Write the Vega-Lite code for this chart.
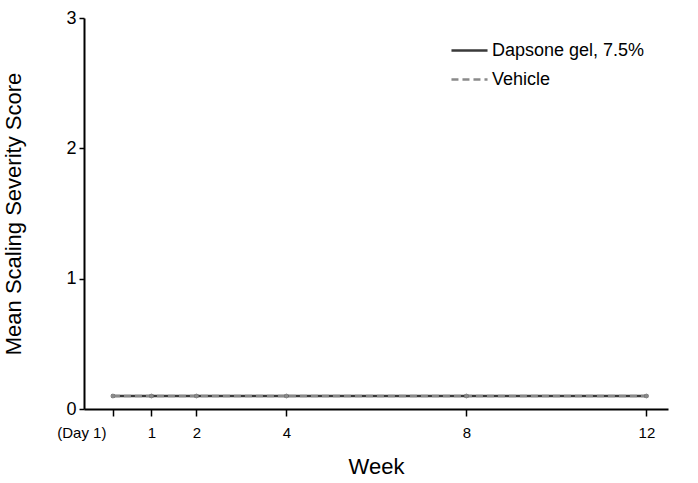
{
  "$schema": "https://vega.github.io/schema/vega-lite/v6.json",
  "autosize": "none",
  "width": 584,
  "height": 391,
  "padding": {"left": 84, "top": 18, "right": 30, "bottom": 74},
  "background": "white",
  "config": {
    "view": {"stroke": null},
    "font": "Liberation Sans",
    "axis": {"grid": false, "domainColor": "black", "domainWidth": 2, "tickColor": "black", "tickWidth": 1.5, "labelColor": "black", "titleColor": "black", "titleFontWeight": "normal"}
  },
  "data": {
    "values": [
      {"week": 0.142857, "group": "Dapsone gel, 7.5%", "score": 0.1},
      {"week": 1, "group": "Dapsone gel, 7.5%", "score": 0.1},
      {"week": 2, "group": "Dapsone gel, 7.5%", "score": 0.1},
      {"week": 4, "group": "Dapsone gel, 7.5%", "score": 0.1},
      {"week": 8, "group": "Dapsone gel, 7.5%", "score": 0.1},
      {"week": 12, "group": "Dapsone gel, 7.5%", "score": 0.1},
      {"week": 0.142857, "group": "Vehicle", "score": 0.1},
      {"week": 1, "group": "Vehicle", "score": 0.1},
      {"week": 2, "group": "Vehicle", "score": 0.1},
      {"week": 4, "group": "Vehicle", "score": 0.1},
      {"week": 8, "group": "Vehicle", "score": 0.1},
      {"week": 12, "group": "Vehicle", "score": 0.1}
    ]
  },
  "encoding": {
    "x": {
      "field": "week", "type": "quantitative",
      "scale": {"domain": [-0.5, 12.48], "nice": false, "zero": false},
      "axis": {
        "values": [0.142857, 1, 2, 4, 8, 12],
        "labelExpr": "datum.value < 0.5 ? '(Day 1)' : datum.label",
        "labelAlign": {"condition": {"test": "datum.value < 0.5", "value": "right"}, "value": "center"},
        "labelOffset": {"condition": {"test": "datum.value < 0.5", "value": -7}, "value": 0},
        "labelFontSize": 15, "tickSize": 7, "labelPadding": 9,
        "title": "Week", "titleFontSize": 22, "titlePadding": 16
      }
    },
    "y": {
      "field": "score", "type": "quantitative",
      "scale": {"domain": [0, 3], "nice": false},
      "axis": {
        "values": [0, 1, 2, 3], "labelFontSize": 18, "tickSize": 5, "labelPadding": 3,
        "title": "Mean Scaling Severity Score", "titleFontSize": 22, "titlePadding": 40
      }
    },
    "color": {
      "field": "group", "type": "nominal",
      "scale": {"domain": ["Dapsone gel, 7.5%", "Vehicle"], "range": ["#3a3a3a", "#8a8a8a"]},
      "legend": {
        "title": null, "orient": "none", "legendX": 366, "legendY": 13,
        "symbolType": "stroke", "symbolSize": 1300, "symbolStrokeWidth": 2.5,
        "labelFontSize": 18, "labelColor": "black", "rowPadding": -8, "labelOffset": 3
      }
    },
    "strokeDash": {
      "field": "group", "type": "nominal",
      "scale": {"domain": ["Dapsone gel, 7.5%", "Vehicle"], "range": [[1, 0], [7, 4]]},
      "legend": null
    }
  },
  "layer": [
    {"mark": {"type": "line", "strokeWidth": 2.5}},
    {"mark": {"type": "point", "filled": true, "size": 20, "opacity": 1}, "encoding": {"strokeDash": null}}
  ]
}
